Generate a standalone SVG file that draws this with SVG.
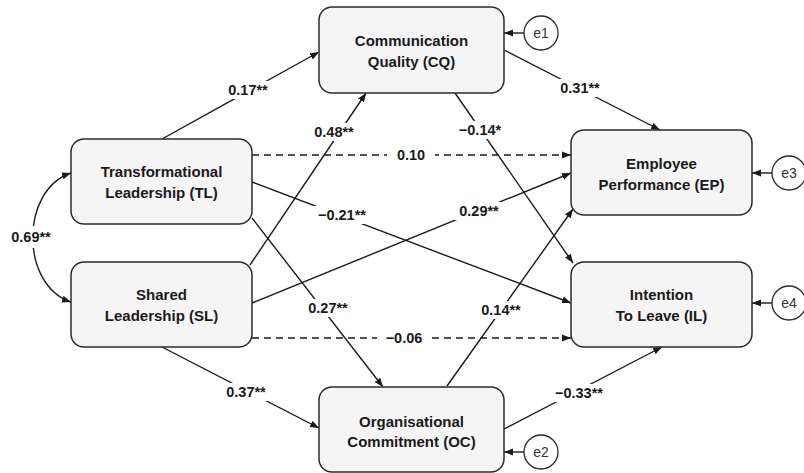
<svg xmlns="http://www.w3.org/2000/svg" width="804" height="473" viewBox="0 0 804 473">
<style>
.box{fill:#f5f5f5;stroke:#2b2b2b;stroke-width:1.5}
.nt{font-family:"Liberation Sans",Arial,sans-serif;font-weight:bold;font-size:15px;fill:#1a1a1a;text-anchor:middle}
.lb{font-family:"Liberation Sans",Arial,sans-serif;font-weight:bold;font-size:14.5px;fill:#1a1a1a;text-anchor:middle}
.et{font-family:"Liberation Sans",Arial,sans-serif;font-size:14px;fill:#333;text-anchor:middle}
.err{fill:#fff;stroke:#2b2b2b;stroke-width:1.3}
.ln{fill:none;stroke:#1a1a1a;stroke-width:1.4;marker-end:url(#ah)}
.ds{stroke-dasharray:7,5}
.bg{fill:#fff}
</style>
<defs>
<marker id="ah" markerUnits="userSpaceOnUse" markerWidth="9" markerHeight="8" refX="9" refY="4" orient="auto-start-reverse">
<path d="M0,0.5 L9,4 L0,7.5 z" fill="#1a1a1a"/>
</marker>
</defs>
<g id="connectors">
<path class="ln" d="M162,139 L319,52"/>
<path class="ln" d="M250,265 L366,93"/>
<path class="ln" d="M252,218 L383,387"/>
<path class="ln" d="M252,303 L571,173"/>
<path class="ln" d="M252,182 L571,303"/>
<path class="ln ds" d="M252,155 L571,155"/>
<path class="ln ds" d="M252,338 L571,338"/>
<path class="ln" d="M162,347 L319,428"/>
<path class="ln" d="M504,50 L660,130"/>
<path class="ln" d="M455,93 L573,263"/>
<path class="ln" d="M447,386 L573,209"/>
<path class="ln" d="M504,429 L662,347"/>
<path class="ln" style="marker-start:url(#ah)" d="M71,173 C20,190 20,285 71,302"/>
<path class="ln" d="M524,33 L504,33"/>
<path class="ln" d="M772,173 L752,173"/>
<path class="ln" d="M772,303 L752,303"/>
<path class="ln" d="M524,452 L504,452"/>
<g id="labels">
<rect class="bg" x="221" y="81" width="54" height="18"/><text class="lb" x="248" y="95">0.17**</text>
<rect class="bg" x="307" y="123" width="54" height="18"/><text class="lb" x="334" y="137">0.48**</text>
<rect class="bg" x="387" y="146" width="48" height="18"/><text class="lb" x="411" y="160">0.10</text>
<rect class="bg" x="311" y="206" width="62" height="18"/><text class="lb" x="342" y="220">−0.21**</text>
<rect class="bg" x="301" y="299" width="54" height="18"/><text class="lb" x="328" y="313">0.27**</text>
<rect class="bg" x="452" y="202" width="54" height="18"/><text class="lb" x="479" y="216">0.29**</text>
<rect class="bg" x="377" y="329" width="54" height="18"/><text class="lb" x="404" y="343">−0.06</text>
<rect class="bg" x="219" y="383" width="54" height="18"/><text class="lb" x="246" y="397">0.37**</text>
<rect class="bg" x="553" y="79" width="54" height="18"/><text class="lb" x="580" y="93">0.31**</text>
<rect class="bg" x="452" y="121" width="56" height="18"/><text class="lb" x="480" y="135">−0.14*</text>
<rect class="bg" x="474" y="301" width="54" height="18"/><text class="lb" x="501" y="315">0.14**</text>
<rect class="bg" x="548" y="384" width="62" height="18"/><text class="lb" x="579" y="398">−0.33**</text>
<rect class="bg" x="6" y="226" width="50" height="22"/><text class="lb" x="31" y="242">0.69**</text>
</g>
</g>
<g id="CQ"><rect class="box" x="319" y="7" width="185" height="86" rx="13"/><text class="nt" x="411.5" y="46">Communication</text><text class="nt" x="411.5" y="67">Quality (CQ)</text></g>
<g id="TL"><rect class="box" x="71" y="139" width="181" height="85" rx="13"/><text class="nt" x="161.5" y="177">Transformational</text><text class="nt" x="161.5" y="198">Leadership (TL)</text></g>
<g id="SL"><rect class="box" x="71" y="262" width="181" height="85" rx="13"/><text class="nt" x="161.5" y="300">Shared</text><text class="nt" x="161.5" y="321">Leadership (SL)</text></g>
<g id="EP"><rect class="box" x="571" y="130" width="181" height="85" rx="13"/><text class="nt" x="661.5" y="169">Employee</text><text class="nt" x="661.5" y="190">Performance (EP)</text></g>
<g id="IL"><rect class="box" x="571" y="262" width="181" height="85" rx="13"/><text class="nt" x="661.5" y="300">Intention</text><text class="nt" x="661.5" y="321">To Leave (IL)</text></g>
<g id="OC"><rect class="box" x="319" y="387" width="185" height="85" rx="13"/><text class="nt" x="411.5" y="427">Organisational</text><text class="nt" x="411.5" y="447">Commitment (OC)</text></g>
<g id="e1"><circle class="err" cx="541" cy="33" r="17"/><text class="et" x="541" y="38">e1</text></g>
<g id="e3"><circle class="err" cx="789" cy="173" r="17"/><text class="et" x="789" y="178">e3</text></g>
<g id="e4"><circle class="err" cx="789" cy="303" r="17"/><text class="et" x="789" y="308">e4</text></g>
<g id="e2"><circle class="err" cx="541" cy="452" r="17"/><text class="et" x="541" y="457">e2</text></g>
</svg>
